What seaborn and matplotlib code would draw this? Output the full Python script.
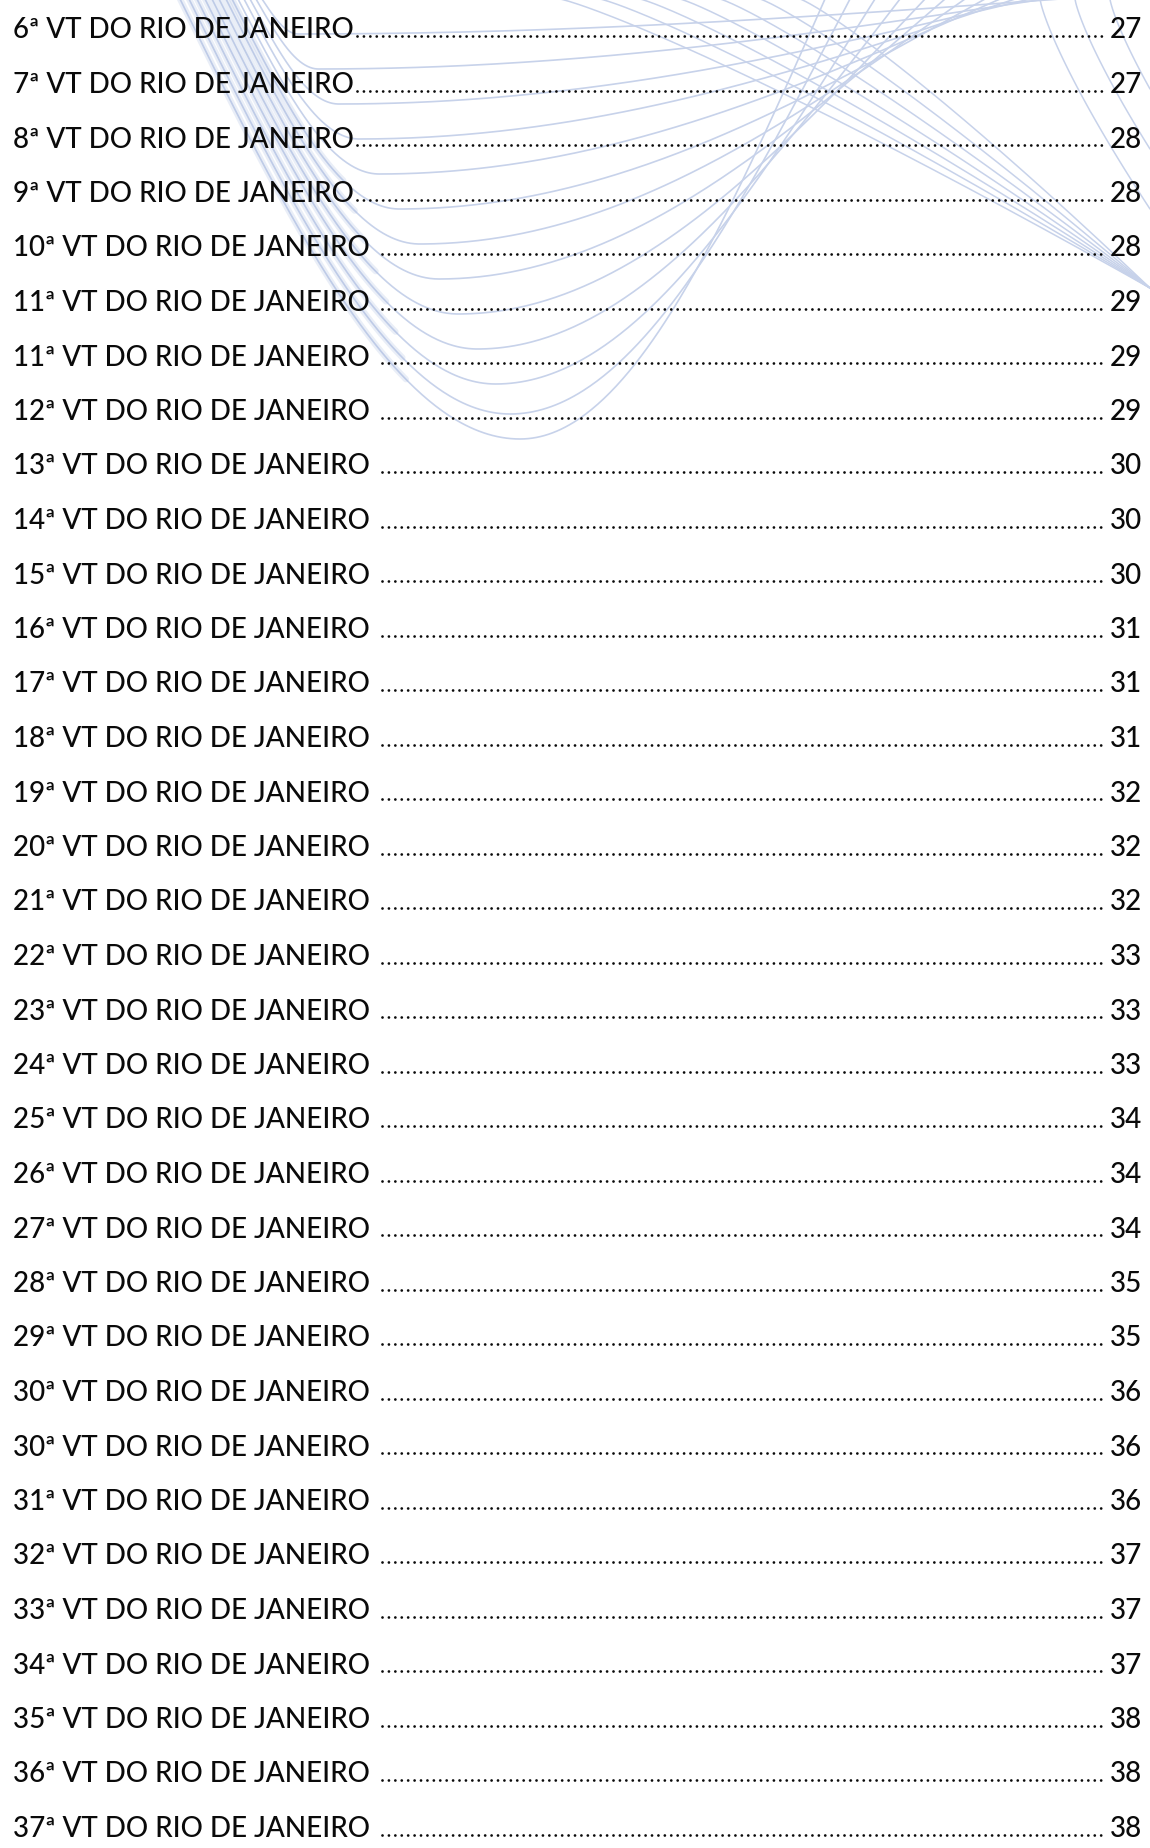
import numpy as np
import matplotlib
matplotlib.use('Agg')
import matplotlib.pyplot as plt
import seaborn as sns

sns.set_theme(style="white")
plt.rcParams['font.family'] = ['Lato', 'DejaVu Sans']

# sumario: ordinal da vara e pagina
ORDINAIS = [6, 7, 8, 9, 10, 11, 11, 12, 13, 14, 15, 16, 17, 18, 19, 20, 21,
            22, 23, 24, 25, 26, 27, 28, 29, 30, 30, 31, 32, 33, 34, 35, 36, 37]
PAGINAS = [27, 27, 28, 28, 28, 29, 29, 29, 30, 30, 30, 31, 31, 31, 32, 32, 32,
           33, 33, 33, 34, 34, 34, 35, 35, 36, 36, 36, 37, 37, 37, 38, 38, 38]
SEM_ESPACO = 4  # as 4 primeiras linhas nao tem espaco antes dos pontos
SUFIXO = "ª VT DO RIO DE JANEIRO"

# marca d'agua (ondas em U): profundidade, x no topo esquerdo, x no topo direito
ONDA_FUNDO = [35, 70, 105, 140, 175, 210, 245, 280, 315, 350, 385, 415, 440]
ONDA_XI = [262, 256, 250, 244, 238, 232, 226, 219, 212, 205, 197, 189, 180]
ONDA_XR = [1060, 1045, 1030, 1015, 1000, 985, 965, 945, 925, 900, 875, 850, 825]
FEIXE_X0 = [560, 600, 640, 680, 720, 760, 800]
CANTO_X0 = [1040, 1075, 1110]
CANTO_Y1 = [210, 150, 90]

W, H = 1150, 1849
COR_TEXTO = "#0a0a0a"
COR_ONDA = "#c7d2ea"
COR_FAIXA = "#9fb3dd"

fig = plt.figure(figsize=(W / 100, H / 100), dpi=100)
ax = fig.add_axes([0, 0, 1, 1])
ax.set_xlim(0, W)
ax.set_ylim(H, 0)
ax.axis('off')

# ondas em U: braco esquerdo inclinado (faixa), fundo plano, braco direito subindo
for k, (yb, xl, xr) in enumerate(zip(ONDA_FUNDO, ONDA_XI, ONDA_XR)):
    xb = xl + 0.75 * yb + 10
    x1 = np.linspace(xl, xb, 150)
    y1 = yb * np.sin(np.pi / 2 * (x1 - xl) / (xb - xl))
    x2 = np.linspace(xb, xr, 150)
    y2 = yb * np.cos(np.pi / 2 * (x2 - xb) / (xr - xb))
    ax.plot(np.r_[x1, x2], np.r_[y1, y2], color=COR_ONDA, lw=1.2, zorder=1)
    if k >= 5:
        ax.plot(x1[:100], y1[:100], color=COR_FAIXA, lw=4.5, alpha=0.22, zorder=1,
                solid_capstyle='round')

# feixe que converge na borda direita
for x0 in FEIXE_X0:
    x = np.linspace(x0, W, 200)
    t = (x - x0) / (W - x0)
    ax.plot(x, 289 * t ** 1.15, color=COR_ONDA, lw=1.1, zorder=1)

for x0, y1 in zip(CANTO_X0, CANTO_Y1):
    x = np.linspace(x0, W, 100)
    t = (x - x0) / (W - x0)
    ax.plot(x, y1 * t ** 0.8, color=COR_ONDA, lw=1.1, zorder=1)

# texto
Y0, PASSO = 38.5, 54.5
X_ESQ, X_DIR = 13, 1142
LARGURA_ALVO = 340  # largura de "6ª VT DO RIO DE JANEIRO"

textos = []
for i, (n, p) in enumerate(zip(ORDINAIS, PAGINAS)):
    y = Y0 + i * PASSO
    t = ax.text(X_ESQ, y, f"{n}{SUFIXO}", ha='left', va='baseline',
                fontsize=20, fontweight=500, color=COR_TEXTO, zorder=3)
    q = ax.text(X_DIR, y, str(p), ha='right', va='baseline',
                fontsize=20, fontweight=500, color=COR_TEXTO, zorder=3)
    textos.append((t, q, y))

fig.canvas.draw()
r = fig.canvas.get_renderer()
w0 = textos[0][0].get_window_extent(r).width
fs = 20 * LARGURA_ALVO / w0
for t, q, _ in textos:
    t.set_fontsize(fs)
    q.set_fontsize(fs)
fig.canvas.draw()

# pontos de preenchimento
for i, (t, q, y) in enumerate(textos):
    x_ini = t.get_window_extent(r).x1 + (3 if i < SEM_ESPACO else 12)
    x_fim = q.get_window_extent(r).x0 - 6
    ax.plot([x_ini, x_fim], [y - 1.5, y - 1.5], color=COR_TEXTO, lw=2.0,
            linestyle=(0, (0.01, 2.3)), dash_capstyle='round', zorder=3)

fig.savefig("out.png", dpi=100, facecolor="white")
plt.close(fig)
